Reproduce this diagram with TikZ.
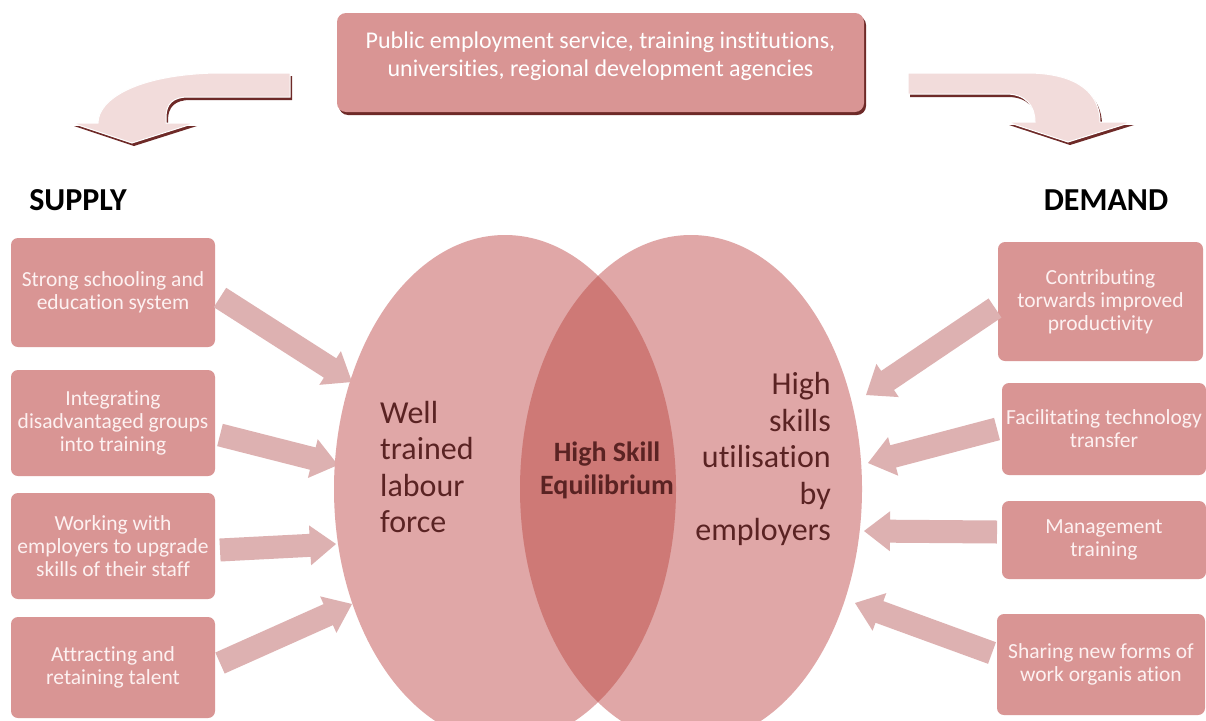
\documentclass[tikz,border=0pt]{standalone}
\usepackage{fontspec}
\setmainfont{Carlito}[Ligatures=NoCommon]
\usetikzlibrary{calc,shadows}
\definecolor{boxc}{HTML}{D99594}
\definecolor{boxtext}{HTML}{FDF1F1}
\definecolor{arrowc}{HTML}{DDB1B1}
\definecolor{ellc}{HTML}{E0A7A7}
\definecolor{lensc}{HTML}{CE7976}
\definecolor{elltext}{HTML}{5A2323}
\definecolor{curvec}{HTML}{F2DCDB}
\definecolor{shadowc}{HTML}{6E2A28}
\tikzset{
  sidebox/.style={rounded corners=7pt, fill=boxc, text=boxtext, align=center, inner sep=0pt,
    font=\fontsize{21.5}{23}\selectfont},
  topbox/.style={rounded corners=9pt, fill=boxc, inner sep=0pt,
    drop shadow={shadow xshift=2pt, shadow yshift=-3pt, fill=shadowc, opacity=1}},
  toptext/.style={text=white, align=center, font=\fontsize{24}{28}\selectfont},
  headlabel/.style={font=\bfseries\fontsize{32}{36}\selectfont, text=black},
  elltxt/.style={text=elltext, font=\fontsize{32}{36.5}\selectfont, inner sep=0pt},
  centertxt/.style={text=elltext, align=center, font=\bfseries\fontsize{28}{33}\selectfont, inner sep=0pt},
}
\newcommand{\barrow}[2]{%
  \coordinate (hb) at ($(#2)!26pt!(#1)$);
  \fill[arrowc] ($(#1)!11.5pt!90:(#2)$) -- ($(hb)!11.5pt!-90:(#1)$) -- ($(hb)!20pt!-90:(#1)$)
    -- (#2) -- ($(hb)!20pt!90:(#1)$) -- ($(hb)!11.5pt!90:(#1)$) -- ($(#1)!11.5pt!-90:(#2)$) -- cycle;}
\def\leftcurve{(290,73) -- (215,73) .. controls (135,75) and (98,100) .. (98,123) -- (72,123) -- (132,143) -- (195,123) -- (166,123) -- (166,117) .. controls (166,104) and (173,97) .. (188,97) -- (290,97) -- cycle}
\def\rightcurve{(908,73) -- (1030,73) .. controls (1080,74) and (1100,95) .. (1100,122) -- (1132,122) -- (1068,142) -- (1007,122) -- (1035,122) .. controls (1035,106) and (1026,94) .. (1006,94) -- (908,94) -- cycle}
\begin{document}
\begin{tikzpicture}[x=1pt,y=-1pt]
\useasboundingbox (0,0) rectangle (1206,720);
\clip (0,0) rectangle (1206,720);
\fill[white] (0,0) rectangle (1206,720);

% top box
\node[topbox, minimum width=527pt, minimum height=99pt] (top) at (600.5,62.5) {};
\node[toptext] (toptext) at (600.5,56) {Public employment service, training institutions,\\universities, regional development agencies};

% curved arrows
\fill[shadowc, shift={(2,3)}] \leftcurve;
\fill[curvec, draw=white, line width=1pt] \leftcurve;
\fill[shadowc, shift={(2,3)}] \rightcurve;
\fill[curvec, draw=white, line width=1pt] \rightcurve;

% labels
\node[headlabel] (supply) at (78,200) {SUPPLY};
\node[headlabel] (demand) at (1106,200) {DEMAND};

% left boxes
\node[sidebox, minimum width=204pt, minimum height=109pt] (l1) at (113,292.5) {Strong schooling and\\education system};
\node[sidebox, minimum width=204pt, minimum height=106pt] (l2) at (113,423) {Integrating\\disadvantaged groups\\into training};
\node[sidebox, minimum width=204pt, minimum height=106pt] (l3) at (113,546) {Working with\\employers to upgrade\\skills of their staff};
\node[sidebox, minimum width=204pt, minimum height=101pt] (l4) at (113,667.5) {Attracting and\\retaining talent};

% right boxes
\node[sidebox, minimum width=205pt, minimum height=119pt] (r1) at (1100.5,301.5) {Contributing\\torwards improved\\productivity};
\node[sidebox, minimum width=204pt, minimum height=92pt] (r2) at (1104,429) {Facilitating technology\\transfer};
\node[sidebox, minimum width=204pt, minimum height=78pt] (r3) at (1104,540) {Management\\training};
\node[sidebox, minimum width=208pt, minimum height=101pt] (r4) at (1101,664.5) {Sharing new forms of\\work organis ation};

% arrow end points
\coordinate (a1s) at (220,297.5); \coordinate (a1e) at (352,382);
\coordinate (a2s) at (220,435);   \coordinate (a2e) at (338,465);
\coordinate (a3s) at (220,550);   \coordinate (a3e) at (336,544);
\coordinate (a4s) at (220,663);   \coordinate (a4e) at (352,604);
\coordinate (b1s) at (995,308);   \coordinate (b1e) at (866,395);
\coordinate (b2s) at (997,429);   \coordinate (b2e) at (868,463);
\coordinate (b3s) at (997,532);   \coordinate (b3e) at (864,531);
\coordinate (b4s) at (992,653);   \coordinate (b4e) at (855,603);
\barrow{a1s}{a1e}\barrow{a2s}{a2e}\barrow{a3s}{a3e}\barrow{a4s}{a4e}
\barrow{b1s}{b1e}\barrow{b2s}{b2e}\barrow{b3s}{b3e}\barrow{b4s}{b4e}

% ellipses
\fill[ellc] (505,489) ellipse [x radius=171pt, y radius=254pt];
\fill[ellc] (691,489) ellipse [x radius=171pt, y radius=254pt];
\begin{scope}
  \clip (505,489) ellipse [x radius=171pt, y radius=254pt];
  \fill[lensc] (691,489) ellipse [x radius=171pt, y radius=254pt];
\end{scope}

% ellipse texts
\node[elltxt, align=left, anchor=west] (lefttxt) at (380,467) {Well\\trained\\labour\\force};
\node[elltxt, align=right, anchor=east] (righttxt) at (831,459) {High\\skills\\utilisation\\by\\employers};
\node[centertxt] (centre) at (607,470.5) {High Skill\\Equilibrium};
\end{tikzpicture}
\end{document}
